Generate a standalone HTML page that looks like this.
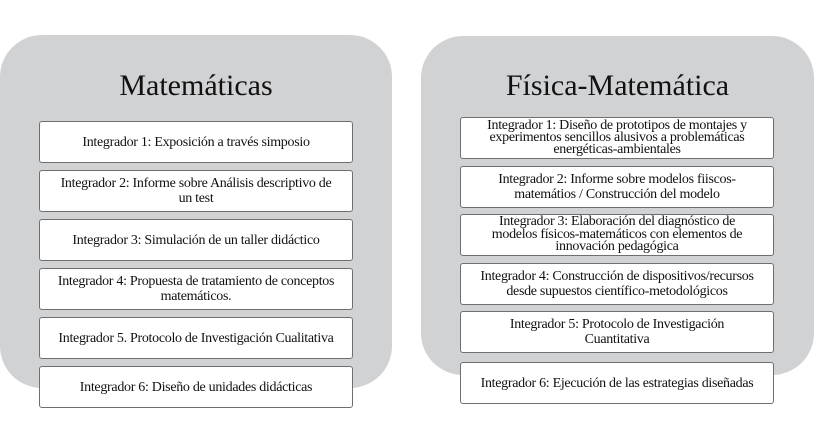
<!DOCTYPE html>
<html><head><meta charset="utf-8"><style>
body{margin:0;width:814px;height:441px;background:#fff;position:relative;overflow:hidden;font-family:"Liberation Serif","Times New Roman",serif;}
.p{position:absolute;background:#d1d2d4;border-radius:42px;}
.t{position:absolute;font-family:"Liberation Serif",serif;font-size:30px;text-align:center;color:#111;}
.b{position:absolute;background:#fff;border:1px solid #6f6f6f;border-radius:3px;box-sizing:border-box;display:flex;align-items:center;justify-content:center;text-align:center;font-family:"Liberation Serif","Times New Roman",serif;font-size:14px;line-height:15px;color:#111;letter-spacing:-0.3px;}
</style></head><body>
<div class="p" style="left:0;top:35px;width:392px;height:353px"></div>
<div class="p" style="left:421px;top:36px;width:393px;height:339px"></div>
<div class="t" style="left:0;width:392px;top:69px">Matemáticas</div>
<div class="t" style="left:421px;width:393px;top:69px">Física-Matemática</div>

<div class="b" style="left:39px;top:121px;width:314px;height:42px">Integrador 1: Exposición a través simposio</div>
<div class="b" style="left:39px;top:170px;width:314px;height:42px">Integrador 2: Informe sobre Análisis descriptivo de<br>un test</div>
<div class="b" style="left:39px;top:219px;width:314px;height:42px">Integrador 3: Simulación de un taller didáctico</div>
<div class="b" style="left:39px;top:268px;width:314px;height:42px">Integrador 4: Propuesta de tratamiento de conceptos<br>matemáticos.</div>
<div class="b" style="left:39px;top:317px;width:314px;height:42px">Integrador 5. Protocolo de Investigación Cualitativa</div>
<div class="b" style="left:39px;top:366px;width:314px;height:42px">Integrador 6: Diseño de unidades didácticas</div>

<div class="b" style="left:460px;top:117px;width:314px;height:42px;line-height:12px">Integrador 1: Diseño de prototipos de montajes y<br>experimentos sencillos alusivos a problemáticas<br>energéticas-ambientales</div>
<div class="b" style="left:460px;top:166px;width:314px;height:42px">Integrador 2: Informe sobre modelos fiiscos-<br>matemátios / Construcción del modelo</div>
<div class="b" style="left:460px;top:214px;width:314px;height:42px;line-height:12.5px">Integrador 3: Elaboración del diagnóstico de<br>modelos físicos-matemáticos con elementos de<br>innovación pedagógica</div>
<div class="b" style="left:460px;top:263px;width:314px;height:42px">Integrador 4: Construcción de dispositivos/recursos<br>desde supuestos científico-metodológicos</div>
<div class="b" style="left:460px;top:311px;width:314px;height:42px">Integrador 5: Protocolo de Investigación<br>Cuantitativa</div>
<div class="b" style="left:460px;top:362px;width:314px;height:42px">Integrador 6: Ejecución de las estrategias diseñadas</div>
</body></html>
